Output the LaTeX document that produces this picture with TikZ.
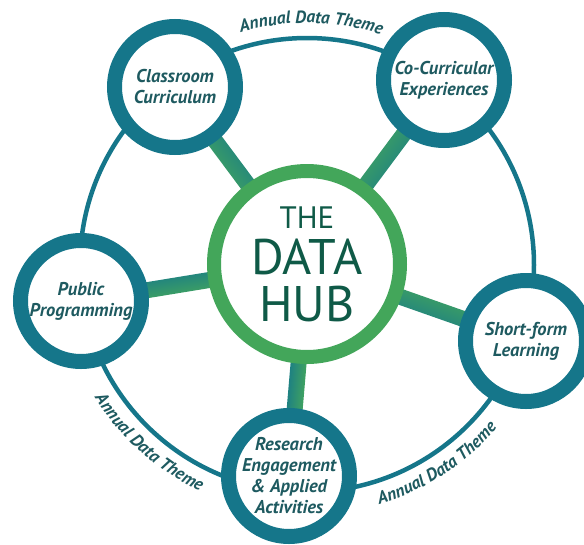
\documentclass[tikz,border=0pt]{standalone}
\usepackage{fontspec}
\setmainfont{PT Sans}
\usetikzlibrary{calc,backgrounds,decorations.text}
\definecolor{ringteal}{HTML}{15768A}
\definecolor{hubgreen}{HTML}{43A65A}
\definecolor{spokegreen}{HTML}{48AA58}
\definecolor{spoketeal}{HTML}{16798A}
\definecolor{txtteal}{HTML}{1E5A60}
\definecolor{hubtxt}{HTML}{0F5A47}
\begin{document}
\begin{tikzpicture}[x=1pt,y=1pt,
  outer/.style={circle, draw=ringteal, line width=15pt, fill=white, minimum size=121pt,
    inner sep=0pt, align=center, text=txtteal,
    font=\fontsize{18.5}{21}\selectfont\bfseries\itshape},
  hubnode/.style={circle, draw=hubgreen, line width=14pt, fill=white, minimum size=186pt,
    inner sep=0pt, align=center, text=hubtxt, font=\fontsize{50}{46.5}\selectfont},
  bigring/.style={draw=ringteal, line width=4.5pt},
  theme/.style={decorate, decoration={text along path, text align=center,
    text color=txtteal,
    text={|\fontsize{17.5}{18}\selectfont\bfseries\itshape|Annual Data Theme}}}
]
\useasboundingbox (0,-544) rectangle (584,0);
\node[hubnode] (hub) at (307,-264) {{\fontsize{31}{46.5}\selectfont THE}\\DATA\\HUB};
\node[outer] (cc) at (175,-87) {Classroom\\Curriculum};
\node[outer] (co) at (444,-80) {Co-Curricular\\Experiences};
\node[outer] (pp) at (81,-301) {Public\\Programming};
\node[outer] (sf) at (526,-341) {Short-form\\Learning};
\node[outer] (re) at (289,-476) {Research\\Engagement\\\& Applied\\Activities};
\begin{pgfonlayer}{background}
  \draw[bigring] ([yshift=-1pt]hub.center) circle[radius=227];
  \foreach \n in {cc,co,pp,sf,re}{
    \pgfmathanglebetweenpoints{\pgfpointanchor{hub}{center}}{\pgfpointanchor{\n}{center}}
    \let\ang\pgfmathresult
    \coordinate (s) at ($(hub.center)!90pt!(\n.center)$);
    \coordinate (e) at ($(\n.center)!60pt!(hub.center)$);
    \shade[left color=spokegreen, right color=spoketeal, shading angle=\ang]
      ($(s)!8pt!90:(e)$) -- ($(e)!8pt!-90:(s)$) -- ($(e)!8pt!90:(s)$) -- ($(s)!8pt!-90:(e)$) -- cycle;
  }
\end{pgfonlayer}
\path[theme] ([shift={(115:241)}]hub.center) arc[start angle=115, end angle=63, radius=241];
\path[theme] ([shift={(203:251)}]hub.center) arc[start angle=203, end angle=254, radius=251];
\path[theme] ([shift={(278:251)}]hub.center) arc[start angle=278, end angle=328, radius=251];
\end{tikzpicture}
\end{document}
